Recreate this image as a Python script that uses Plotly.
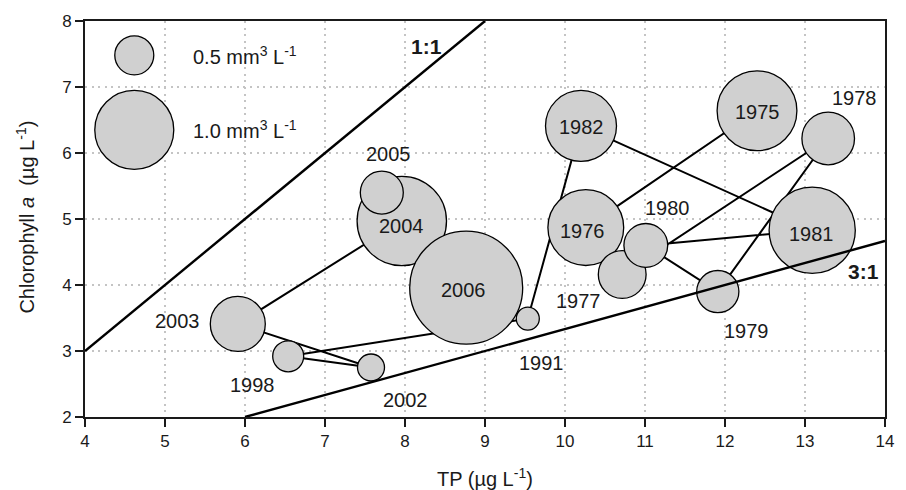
import plotly.graph_objects as go

# Annual means: total phosphorus, chlorophyll a and biovolume
years = [1975, 1976, 1977, 1978, 1979, 1980, 1981, 1982,
         1991, 1998, 2002, 2003, 2004, 2005, 2006]
tp = [12.40, 10.26, 10.715, 13.29, 11.91, 11.01, 13.09, 10.20,
      9.535, 6.54, 7.575, 5.91, 7.96, 7.71, 8.765]
chl = [6.64, 4.87, 4.16, 6.22, 3.90, 4.60, 4.83, 6.41,
       3.49, 2.92, 2.75, 3.41, 4.97, 5.40, 3.96]
biovolume = [1.01, 0.96, 0.61, 0.67, 0.54, 0.56, 1.09, 0.90,
             0.30, 0.40, 0.35, 0.70, 1.13, 0.55, 1.425]

# Size key
key_values = [0.5, 1.0]
key_labels = ["0.5 mm<sup>3</sup> L<sup>-1</sup>", "1.0 mm<sup>3</sup> L<sup>-1</sup>"]

# Chl:TP reference lines
ref_11_x, ref_11_y = [4, 9], [3, 8]
ref_31_x, ref_31_y = [6, 14], [2, 14 / 3]

x_ticks = list(range(4, 15))
y_ticks = list(range(2, 9))

PX_PER_UNIT = 80          # marker diameter (px) per mm3 L-1
FILL = "#d0d0d0"
INK = "#1a1a1a"
FONT = "Liberation Sans, Arial, sans-serif"

# label placement (pixel shifts from each circle centre)
label_shift = {
    1975: (0, -1), 1976: (-3, -3), 1977: (-44, -27), 1978: (26, 40),
    1979: (29, -39), 1980: (22, 37), 1981: (-1, -4), 1982: (0, -1),
    1991: (14, -44), 1998: (-36, -29), 2002: (34, -32), 2003: (-60, 3),
    2004: (0, -5), 2005: (7, 39), 2006: (-3, -2),
}
key_pos_x = 4.616
key_pos_y = [7.48, 6.35]
key_text_x = 5.325

fig = go.Figure()

# year-to-year trajectory
fig.add_trace(go.Scatter(
    x=tp, y=chl, mode="lines",
    line=dict(color="black", width=2),
    hoverinfo="skip", showlegend=False,
))

# biovolume circles
fig.add_trace(go.Scatter(
    x=tp, y=chl, mode="markers",
    marker=dict(size=[v * PX_PER_UNIT - 1 for v in biovolume],
                sizemode="diameter", color=FILL,
                line=dict(color="black", width=1.3), opacity=1),
    hoverinfo="skip", showlegend=False, cliponaxis=False,
))

# size key circles
fig.add_trace(go.Scatter(
    x=[key_pos_x] * len(key_values), y=key_pos_y, mode="markers",
    marker=dict(size=[v * PX_PER_UNIT - 1 for v in key_values],
                sizemode="diameter", color=FILL,
                line=dict(color="black", width=1.3), opacity=1),
    hoverinfo="skip", showlegend=False, cliponaxis=False,
))

# reference ratio lines
for rx, ry in [(ref_11_x, ref_11_y), (ref_31_x, ref_31_y)]:
    fig.add_trace(go.Scatter(
        x=rx, y=ry, mode="lines",
        line=dict(color="black", width=2.4),
        hoverinfo="skip", showlegend=False,
    ))

annotations = []
for yr, x, y in zip(years, tp, chl):
    dx, dy = label_shift[yr]
    annotations.append(dict(
        x=x, y=y, xref="x", yref="y", text=str(yr), showarrow=False,
        xshift=dx, yshift=dy, xanchor="center", yanchor="middle",
        font=dict(family=FONT, size=20, color=INK),
    ))

for ky, lab in zip(key_pos_y, key_labels):
    annotations.append(dict(
        x=key_text_x, y=ky, xref="x", yref="y", text=lab, showarrow=False,
        xanchor="left", yanchor="middle",
        font=dict(family=FONT, size=20, color=INK),
    ))

annotations += [
    dict(x=8.27, y=7.615, xref="x", yref="y", text="<b>1:1</b>", showarrow=False,
         font=dict(family=FONT, size=21, color=INK)),
    dict(x=13.73, y=4.20, xref="x", yref="y", text="<b>3:1</b>", showarrow=False,
         font=dict(family=FONT, size=21, color=INK)),
    dict(x=0.5, y=-0.152, xref="paper", yref="paper",
         text="TP (µg L<sup>-1</sup>)", showarrow=False,
         xanchor="center", yanchor="middle",
         font=dict(family=FONT, size=20, color=INK)),
    dict(x=-0.0755, y=0.505, xref="paper", yref="paper",
         text="Chlorophyll <i>a</i>  (µg L<sup>-1</sup>)", showarrow=False,
         textangle=-90, xanchor="center", yanchor="middle",
         font=dict(family=FONT, size=20, color=INK)),
]

axis_common = dict(
    showline=True, linecolor=INK, linewidth=2, mirror=True,
    ticks="outside", ticklen=8, tickwidth=1.5, tickcolor=INK,
    showgrid=True, gridcolor="#c4c4c4", gridwidth=2, griddash="2px,4.6px",
    zeroline=False, tickfont=dict(family=FONT, size=17, color=INK),
)

fig.update_layout(
    width=906, height=490,
    margin=dict(l=85, r=21, t=16, b=73),
    paper_bgcolor="white", plot_bgcolor="white",
    xaxis=dict(range=[4, 14], tickvals=x_ticks, **axis_common),
    yaxis=dict(range=[2, 8], tickvals=y_ticks, **axis_common),
    annotations=annotations,
    showlegend=False,
)

fig.write_html("out.html")
